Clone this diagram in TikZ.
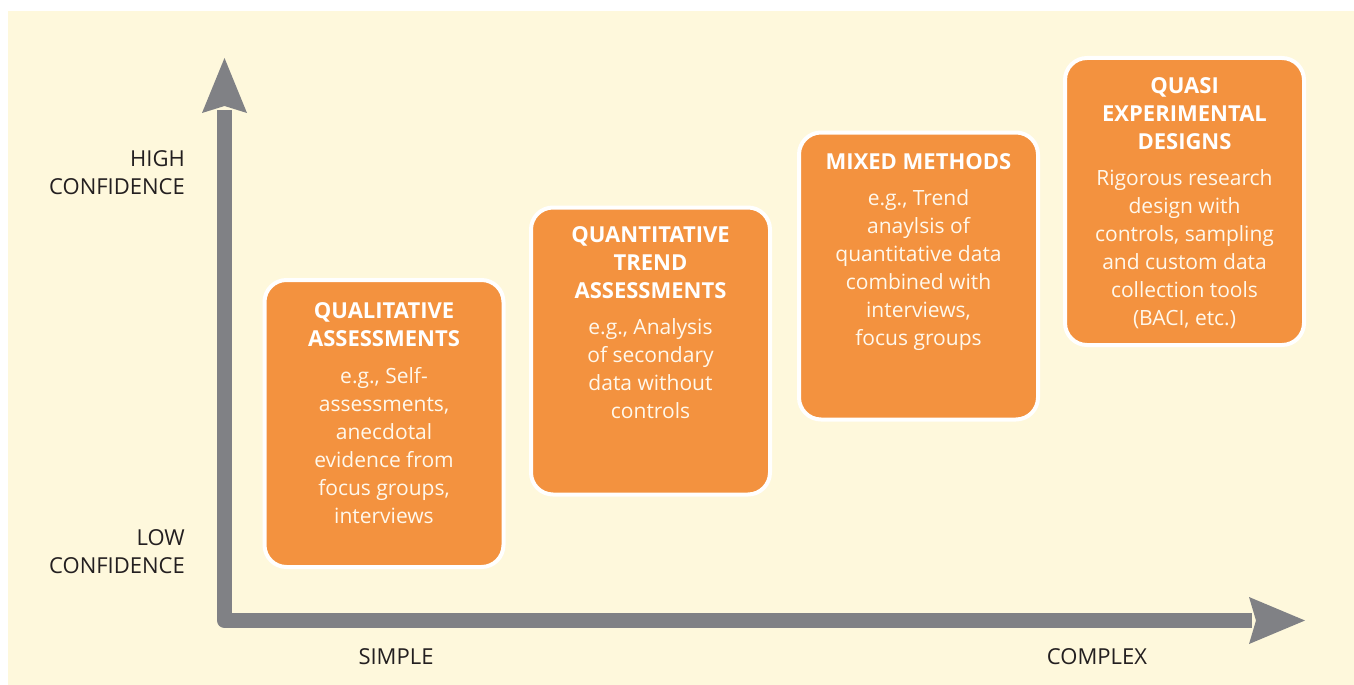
\documentclass[tikz,border=0pt]{standalone}
\usepackage{fontspec}
\setmainfont{Open Sans}
\definecolor{cream}{HTML}{FEF8DC}
\definecolor{boxorange}{HTML}{F3923F}
\definecolor{axisgray}{HTML}{808185}
\definecolor{labeltext}{HTML}{231F20}
\definecolor{boxtextcol}{HTML}{FFF8EC}
\begin{document}
\begin{tikzpicture}[x=1pt,y=-1pt,
  stagebox/.style={draw=white, line width=4pt, fill=boxorange, rounded corners=22pt,
    minimum width=239pt, minimum height=287pt, inner sep=0pt},
  stagetitle/.style={anchor=north, inner sep=0pt, align=center, text=white,
    font=\bfseries\fontsize{22}{28}\selectfont},
  stagebody/.style={anchor=north, inner sep=0pt, align=center, text=boxtextcol,
    font=\fontsize{21}{28}\selectfont},
  axislabel/.style={inner sep=0pt, text=labeltext, font=\fontsize{22}{28}\selectfont},
]
\useasboundingbox (0,0) rectangle (1354,685);
\fill[white] (0,0) rectangle (1354,685);
\fill[cream] (8,11) rectangle (1354,685);

% axes
\coordinate (O) at (224.5,620.5);
\coordinate (Ytip) at (224.5,58);
\coordinate (Xtip) at (1305,620.5);
\draw[axisgray, line width=15pt, line join=round] (224.5,110) -- (O) -- (1252,620.5);
\fill[axisgray] (Ytip) -- (247,113) -- (224.5,106) -- (202,113) -- cycle;
\fill[axisgray] (Xtip) -- (1249,644) -- (1256,620.5) -- (1249,597) -- cycle;

% axis labels
\node[axislabel, anchor=north east, align=right] (high) at (185,150) {HIGH\\CONFIDENCE};
\node[axislabel, anchor=north east, align=right] (low) at (185,529) {LOW\\CONFIDENCE};
\node[axislabel] (simple) at (396,657) {SIMPLE};
\node[axislabel] (complex) at (1097,657) {COMPLEX};

% boxes
\node[stagebox] (b1) at (384,423.5) {};
\node[stagebox] (b2) at (650.5,351) {};
\node[stagebox] (b3) at (918.5,276) {};
\node[stagebox] (b4) at (1184.5,201.5) {};

\node[stagetitle] (t1) at ([yshift=-24.5pt]b1.north) {QUALITATIVE\\ASSESSMENTS};
\node[stagebody] (d1) at ([yshift=-19.7pt]t1.south) {e.g., Self-\\assessments,\\anecdotal\\evidence from\\focus groups,\\interviews};

\node[stagetitle] (t2) at ([yshift=-21pt]b2.north) {QUANTITATIVE\\TREND\\ASSESSMENTS};
\node[stagebody] (d2) at ([yshift=-19.7pt]t2.south) {e.g., Analysis\\of secondary\\data without\\controls};

\node[stagetitle] (t3) at ([yshift=-22.5pt]b3.north) {MIXED METHODS};
\node[stagebody] (d3) at ([yshift=-19.7pt]t3.south) {e.g., Trend\\anaylsis of\\quantitative data\\combined with\\interviews,\\focus groups};

\node[stagetitle] (t4) at ([yshift=-21.5pt]b4.north) {QUASI\\EXPERIMENTAL\\DESIGNS};
\node[stagebody] (d4) at ([yshift=-19.7pt]t4.south) {Rigorous research\\design with\\controls, sampling\\and custom data\\collection tools\\(BACI, etc.)};
\end{tikzpicture}
\end{document}
